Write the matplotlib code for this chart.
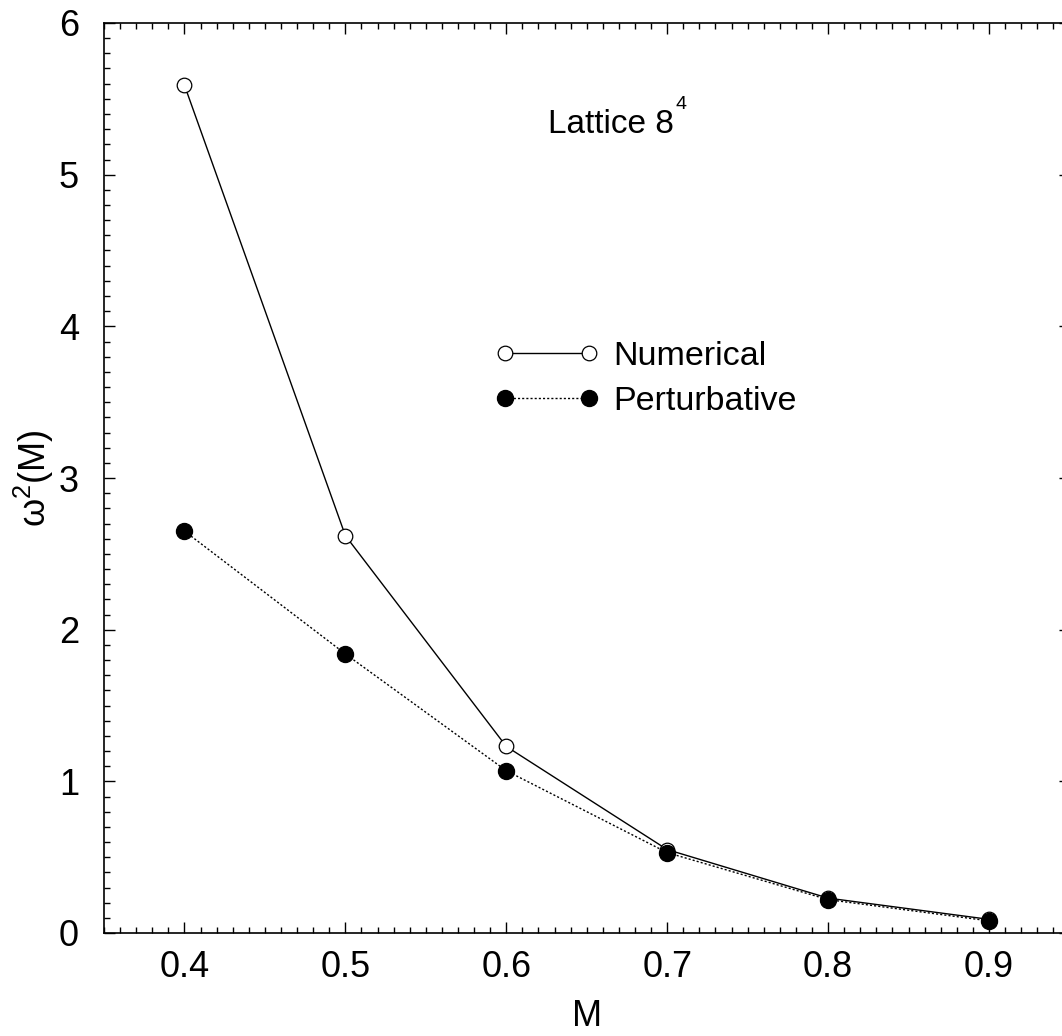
import numpy as np
import matplotlib
matplotlib.use('Agg')
import matplotlib.pyplot as plt
from matplotlib.ticker import MultipleLocator

plt.rcParams['font.family'] = ['Liberation Sans', 'DejaVu Sans']
plt.rcParams['mathtext.fontset'] = 'custom'
plt.rcParams['mathtext.rm'] = 'Liberation Sans'
plt.rcParams['mathtext.it'] = 'Liberation Sans:italic'

M = [0.4, 0.5, 0.6, 0.7, 0.8, 0.9]
numerical = [5.59, 2.62, 1.23, 0.55, 0.23, 0.09]
perturbative = [2.65, 1.84, 1.07, 0.53, 0.22, 0.08]

fig = plt.figure(figsize=(10.62, 10.36), dpi=100)
ax = fig.add_axes([104 / 1062, 1 - 933 / 1036, (1069.5 - 104) / 1062, (933 - 23) / 1036])

ax.plot(M, numerical, color='black', lw=1, marker='o', ms=10.5, mfc='white',
        mec='black', mew=0.9, label='Numerical')
ax.plot(M, perturbative, color='black', lw=1, ls=(0, (1.5, 1.5)), marker='o', ms=11.5,
        mfc='black', mec='black', label='Perturbative')

ax.set_xlim(0.35, 0.95)
ax.set_ylim(0, 6)
ax.xaxis.set_major_locator(MultipleLocator(0.1))
ax.xaxis.set_minor_locator(MultipleLocator(0.01))
ax.yaxis.set_major_locator(MultipleLocator(1))
ax.yaxis.set_minor_locator(MultipleLocator(0.1))
ax.tick_params(which='both', direction='in', top=True, right=True, labelsize=26, width=1)
ax.tick_params(which='major', length=8)
ax.tick_params(which='minor', length=4)
ax.tick_params(axis='x', which='major', pad=12)
ax.tick_params(axis='y', which='major', pad=18)
for s in ax.spines.values():
    s.set_linewidth(1.2)

ax.set_xticklabels(['%.1f' % v for v in ax.get_xticks()])
ax.set_xlabel('M', fontsize=26, labelpad=10)
ax.set_ylabel('ω$^{\\mathregular{2}}$(M)', fontsize=26, labelpad=2)

lat = ax.text(0.626, 5.275, 'Lattice 8', fontsize=24)
ax.annotate('4', xy=(1.0, 0.88), xycoords=lat, xytext=(1, 0), textcoords='offset points',
            fontsize=14, va='bottom', ha='left')

ax.legend(loc='upper left', bbox_to_anchor=(0.391, 0.666), frameon=False, fontsize=24.5,
          numpoints=2, handlelength=3.05, handletextpad=0.41, labelspacing=0.43,
          borderaxespad=0)

fig.savefig('out.png', dpi=100)
